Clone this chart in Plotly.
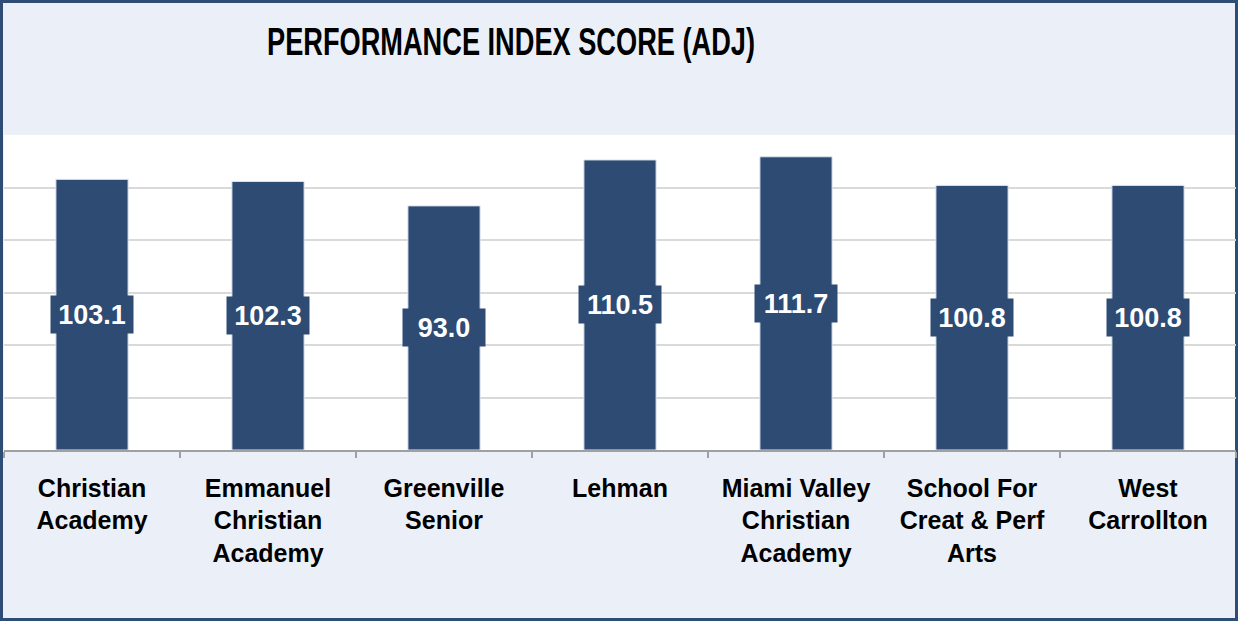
import plotly.graph_objects as go

categories = ["Christian<br>Academy", "Emmanuel<br>Christian<br>Academy", "Greenville<br>Senior",
              "Lehman", "Miami Valley<br>Christian<br>Academy", "School For<br>Creat & Perf<br>Arts",
              "West<br>Carrollton"]
values = [103.1, 102.3, 93.0, 110.5, 111.7, 100.8, 100.8]
title_text = "PERFORMANCE INDEX SCORE (ADJ)"

BAR = "#2D4B73"
BG = "#EBF0F8"
W, H = 1239, 627
ML, MR, MT, MB = 4, 3, 135, 177
pw, ph = W - ML - MR, H - MT - MB

def px2x(px):
    return (px - ML) / pw

def py2y(py):
    return (H - MB - py) / ph

fig = go.Figure()
fig.add_trace(go.Bar(
    x=categories, y=values,
    marker=dict(color=BAR, line=dict(color="#DDE4EE", width=1)),
    hoverinfo="skip",
))

for c, v in zip(categories, values):
    fig.add_annotation(
        x=c, y=v / 2, xref="x", yref="y", text=f"{v:.1f}", showarrow=False,
        bgcolor=BAR, width=78, height=33, borderpad=2,
        font=dict(family="Liberation Sans, Arial", size=27, color="white", weight="bold"),
    )

# white strip outside the frame (bottom / right)
fig.add_shape(type="rect", xref="paper", yref="paper", layer="below",
              x0=px2x(-5), x1=px2x(W + 5), y0=py2y(H + 5), y1=py2y(621),
              fillcolor="white", line=dict(width=0))
fig.add_shape(type="rect", xref="paper", yref="paper", layer="below",
              x0=px2x(1238), x1=px2x(W + 5), y0=py2y(H + 5), y1=py2y(-5),
              fillcolor="white", line=dict(width=0))
# frame
fig.add_shape(type="rect", xref="paper", yref="paper", layer="below",
              x0=px2x(1.5), x1=px2x(1236.5), y0=py2y(619.5), y1=py2y(1.5),
              fillcolor="rgba(0,0,0,0)", line=dict(color="#2E4D76", width=3))

fig.update_layout(
    width=W, height=H,
    margin=dict(l=ML, r=MR, t=MT, b=MB),
    paper_bgcolor=BG, plot_bgcolor="white",
    showlegend=False, bargap=0.59,
    title=dict(text=title_text, x=px2x(511), xref="paper", xanchor="center",
               y=1 - 41 / H, yref="container", yanchor="middle",
               font=dict(family="Liberation Sans, Arial", size=39,
                         color="black", weight="bold")),
    xaxis=dict(showline=True, linecolor="#A0A0A0", linewidth=1.5, ticks="outside",
               tickson="boundaries", ticklen=6, tickcolor="#A0A0A0", tickwidth=1.5,
               ticklabelstandoff=15,
               tickfont=dict(family="Liberation Sans, Arial", size=25, color="black", weight="bold"),
               showgrid=False),
    yaxis=dict(range=[0, 120], dtick=20, showgrid=True, gridcolor="#D9D9D9", gridwidth=1.5,
               showticklabels=False, zeroline=False, showline=False, fixedrange=True),
)

post = """
document.body.style.margin='0';
var t=document.querySelector('.gtitle');
if(t){t.setAttribute('textLength','488');t.setAttribute('lengthAdjust','spacingAndGlyphs');}
"""

fig.write_html("out.html", post_script=post, config={"displayModeBar": False})
